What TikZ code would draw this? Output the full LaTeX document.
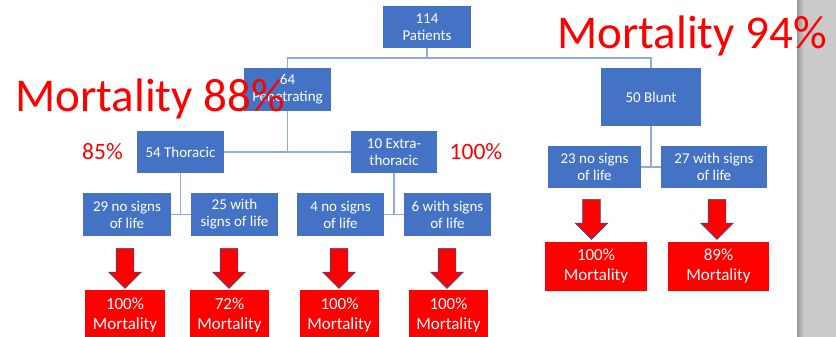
\documentclass[tikz,border=0pt]{standalone}
\usepackage{fontspec}
\setmainfont{Carlito}
\usetikzlibrary{shapes.arrows}

\definecolor{boxblue}{HTML}{4472c4}
\definecolor{linkblue}{HTML}{8faadc}
\definecolor{outcome}{HTML}{ff0000}
\definecolor{arrowrim}{HTML}{2f528f}
\definecolor{sidebar}{HTML}{c9cac9}

\tikzstyle{group}=[rectangle, fill=boxblue, text=white, align=center, inner sep=1pt,
    font=\fontsize{15}{17}\selectfont]
\tikzstyle{result}=[rectangle, fill=outcome, text=white, align=center, inner sep=1pt,
    font=\fontsize{17}{20}\selectfont]
\tikzstyle{down-arrow}=[single arrow, fill=outcome, draw=arrowrim, line width=0.6pt,
    rotate=-90, inner sep=8.5pt, single arrow head extend=7.5pt, minimum height=40pt]
\tikzstyle{link}=[draw=linkblue, line width=1.4pt]
\tikzstyle{rate}=[text=outcome, inner sep=0pt]

\begin{document}
\begin{tikzpicture}
      \useasboundingbox (0,0) rectangle (836pt,-337pt);
      \shade[left color=black!40, right color=sidebar] (797pt,0) rectangle (804pt,-337pt);
      \fill[sidebar] (804pt,0) rectangle (836pt,-337pt);

      % tree of patients
      \node (patients) at (427pt, -27pt)
            [group, minimum width=88pt, minimum height=42pt] {114\\Patients};
      \node (penetrating) at (287.5pt, -89.5pt)
            [group, minimum width=87pt, minimum height=43pt] {64\\Penetrating};
      \node (blunt) at (651pt, -97pt)
            [group, minimum width=100pt, minimum height=58pt] {50 Blunt};
      \node (thoracic) at (180.5pt, -152pt)
            [group, minimum width=87pt, minimum height=42pt] {54 Thoracic};
      \node (extra) at (394pt, -152pt)
            [group, minimum width=86pt, minimum height=42pt] {10 Extra-\\thoracic};
      \node (blunt-none) at (594.5pt, -167pt)
            [group, minimum width=93pt, minimum height=42pt] {23 no signs\\of life};
      \node (blunt-signs) at (714pt, -167pt)
            [group, minimum width=106pt, minimum height=42pt] {27 with signs\\of life};
      \node (thoracic-none) at (127pt, -214.5pt)
            [group, minimum width=88pt, minimum height=43pt] {29 no signs\\of life};
      \node (thoracic-signs) at (234.5pt, -214.5pt)
            [group, minimum width=87pt, minimum height=43pt] {25 with\\signs of life};
      \node (extra-none) at (340.5pt, -214.5pt)
            [group, minimum width=87pt, minimum height=43pt] {4 no signs\\of life};
      \node (extra-signs) at (447.5pt, -214.5pt)
            [group, minimum width=87pt, minimum height=43pt] {6 with signs\\of life};

      \draw[link] (patients.south) -- ++(0,-10pt) -| (penetrating.north);
      \draw[link] (patients.south) -- ++(0,-10pt) -| (blunt.north);
      \draw[link] (thoracic.east) -- (extra.west);
      \draw[link] (penetrating.south) -- (penetrating.south |- thoracic.east);
      \draw[link] (thoracic-none.east) -- (thoracic-signs.west);
      \draw[link] (thoracic.south) -- (thoracic.south |- thoracic-none.east);
      \draw[link] (extra-none.east) -- (extra-signs.west);
      \draw[link] (extra.south) -- (extra.south |- extra-none.east);
      \draw[link] (blunt-none.east) -- (blunt-signs.west);
      \draw[link] (blunt.south) -- (blunt.south |- blunt-none.east);

      % outcomes
      \node (arrow1) at (125pt, -264pt) [down-arrow] {};
      \node (arrow2) at (229pt, -264pt) [down-arrow] {};
      \node (arrow3) at (339pt, -264pt) [down-arrow] {};
      \node (arrow4) at (447pt, -264pt) [down-arrow] {};
      \node (arrow5) at (591.5pt, -215pt) [down-arrow] {};
      \node (arrow6) at (717pt, -215pt) [down-arrow] {};

      \node (result1) at (125pt, -315pt)
            [result, minimum width=80pt, minimum height=50pt] {100\%\\Mortality};
      \node (result2) at (229.5pt, -315pt)
            [result, minimum width=79pt, minimum height=50pt] {72\%\\Mortality};
      \node (result3) at (339.5pt, -315pt)
            [result, minimum width=79pt, minimum height=50pt] {100\%\\Mortality};
      \node (result4) at (448.5pt, -315pt)
            [result, minimum width=79pt, minimum height=50pt] {100\%\\Mortality};
      \node (result5) at (596pt, -266.5pt)
            [result, minimum width=102pt, minimum height=49pt] {100\%\\Mortality};
      \node (result6) at (718.5pt, -266.5pt)
            [result, minimum width=101pt, minimum height=49pt] {89\%\\Mortality};

      % mortality rates
      \node (rate-thoracic) at (102.5pt, -152pt) [rate, font=\fontsize{23.5}{26}\selectfont] {85\%};
      \node (rate-extra) at (476pt, -152pt) [rate, font=\fontsize{23.5}{26}\selectfont] {100\%};
      \node (rate-penetrating) at (15pt, -111pt)
            [rate, anchor=base west, font=\fontsize{47}{50}\selectfont] {Mortality 88\%};
      \node (rate-blunt) at (557pt, -49pt)
            [rate, anchor=base west, font=\fontsize{47}{50}\selectfont] {Mortality 94\%};
\end{tikzpicture}
\end{document}
